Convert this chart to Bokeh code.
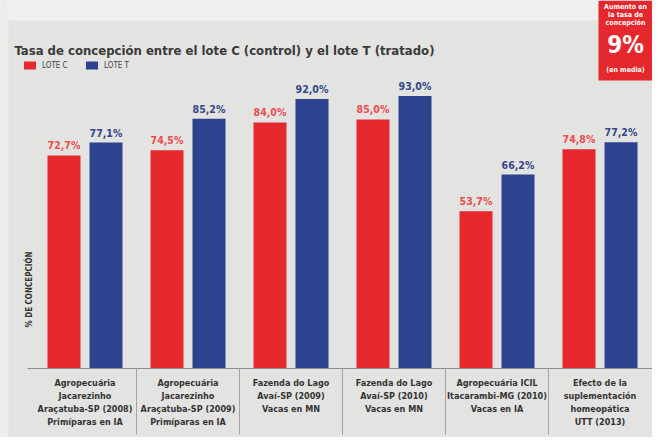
import numpy as np
from bokeh.plotting import figure
from bokeh.models import ColumnDataSource, Range1d, Label, BoxAnnotation, Legend, LegendItem
from bokeh.transform import dodge
from bokeh.core.properties import value
from bokeh.embed import file_html
from bokeh.resources import INLINE

# ---------------- data ----------------
categories = [
    "Agropecuária\nJacarezinho\nAraçatuba-SP (2008)\nPrimíparas en IA",
    "Agropecuária\nJacarezinho\nAraçatuba-SP (2009)\nPrimíparas en IA",
    "Fazenda do Lago\nAvaí-SP (2009)\nVacas en MN",
    "Fazenda do Lago\nAvaí-SP (2010)\nVacas en MN",
    "Agropecuária ICIL\nItacarambi-MG (2010)\nVacas en IA",
    "Efecto de la\nsuplementación\nhomeopática\nUTT (2013)",
]
lote_c = [72.7, 74.5, 84.0, 85.0, 53.7, 74.8]
lote_t = [77.1, 85.2, 92.0, 93.0, 66.2, 77.2]
series_names = ["LOTE C", "LOTE T"]
title_text = "Tasa de concepción entre el lote C (control) y el lote T (tratado)"
y_label_text = "% DE CONCEPCIÓN"
callout_lines = ["Aumento en", "la tasa de", "concepción", "9%", "(en media)"]

# ---------------- style ----------------
FONT = "DejaVu Sans Condensed, Liberation Sans Narrow, Liberation Sans, sans-serif"
RED = "#e6292f"
BLUE = "#2e4390"
RED_TXT = "#ee4b50"
BLUE_TXT = "#34468a"
BG = "#e3e3e1"
DARK = "#3a3a3a"

W, H = 652, 437
GROUP_PX = 103.0
X0 = -84.5 / GROUP_PX
Y_TOP, Y_BOT = 125.6, -23.55
PX_PER_Y = H / (Y_TOP - Y_BOT)


def dx(px):
    return X0 + px / GROUP_PX


def dy(py):
    return Y_TOP - py / PX_PER_Y


idx = list(range(len(categories)))
src = ColumnDataSource(dict(
    x=idx,
    c=lote_c,
    t=lote_t,
    c_lab=[f"{v:.1f}%".replace(".", ",") for v in lote_c],
    t_lab=[f"{v:.1f}%".replace(".", ",") for v in lote_t],
    cat=categories,
    zero=[0] * len(idx),
))
sep_src = ColumnDataSource(dict(x=[i + 0.5 for i in idx[:-1]]))

p = figure(width=W, height=H, output_backend="svg", toolbar_location=None,
           x_range=Range1d(X0, X0 + W / GROUP_PX), y_range=Range1d(Y_BOT, Y_TOP),
           min_border=0, background_fill_color=BG, border_fill_color=BG,
           outline_line_color=None)
p.axis.visible = False
p.grid.visible = False

# decorative strips
p.add_layout(BoxAnnotation(bottom=dy(20), right=dx(598), fill_color="#efefed",
                           fill_alpha=1, line_color=None))
p.add_layout(BoxAnnotation(right=dx(8), fill_color="#ececea", fill_alpha=1,
                           line_color=None))

OFF = 21 / GROUP_PX
BW = 33 / GROUP_PX
r_c = p.vbar(x=dodge("x", -OFF), top="c", width=BW, source=src,
             fill_color=RED, line_color=None)
r_t = p.vbar(x=dodge("x", OFF), top="t", width=BW, source=src,
             fill_color=BLUE, line_color=None)

p.text(x=dodge("x", -OFF), y="c", text="c_lab", source=src, y_offset=-4,
       text_align="center", text_baseline="bottom", text_font=value(FONT),
       text_font_style="bold", text_font_size="10.5px", text_color=RED_TXT)
p.text(x=dodge("x", OFF), y="t", text="t_lab", source=src, y_offset=-4,
       text_align="center", text_baseline="bottom", text_font=value(FONT),
       text_font_style="bold", text_font_size="10.5px", text_color=BLUE_TXT)

# baseline and separators
p.segment(x0=dx(27), y0=0, x1=X0 + W / GROUP_PX, y1=0, line_color="#8e8e8e", line_width=1)
p.segment(x0="x", y0=0, x1="x", y1=dy(434), source=sep_src,
          line_color="#a3a3a3", line_width=1)

# category labels
p.text(x="x", y="zero", text="cat", source=src, y_offset=9,
       text_align="center", text_baseline="top", text_font=value(FONT),
       text_font_style="bold", text_font_size="9px", text_line_height=1.3,
       text_color="#333333")

# title
p.add_layout(Label(x=dx(14), y=dy(50), text=title_text, text_font=FONT,
                   text_font_style="bold", text_font_size="13px",
                   text_color=DARK, text_baseline="alphabetic"))

# y label
p.add_layout(Label(x=dx(29), y=dy(289), text=y_label_text, angle=np.pi / 2,
                   text_font=FONT, text_font_style="bold", text_font_size="8px",
                   text_color="#333333", text_align="center", text_baseline="middle"))

# legend
legend = Legend(items=[LegendItem(label=series_names[0], renderers=[r_c]),
                       LegendItem(label=series_names[1], renderers=[r_t])],
                location=(22, H - 70), orientation="horizontal",
                padding=0, margin=0, spacing=0, border_line_color=None,
                background_fill_alpha=0, glyph_width=15, glyph_height=10,
                label_height=10, label_width=42, label_standoff=5,
                label_text_font=FONT, label_text_font_size="8px",
                label_text_color="#444444")
p.add_layout(legend)

# callout
p.add_layout(BoxAnnotation(left=dx(598), bottom=dy(80), fill_color="#e5282d",
                           fill_alpha=1, line_color=None))
cx = dx(625)
for txt, py, size in zip(callout_lines, [6, 14, 22, 44, 69],
                         ["7px", "7px", "7px", "24px", "7px"]):
    p.add_layout(Label(x=cx, y=dy(py), text=txt, text_font=FONT, text_font_style="bold",
                       text_font_size=size, text_color="white", text_align="center",
                       text_baseline="middle"))

open("out.html", "w").write(file_html(p, INLINE))
